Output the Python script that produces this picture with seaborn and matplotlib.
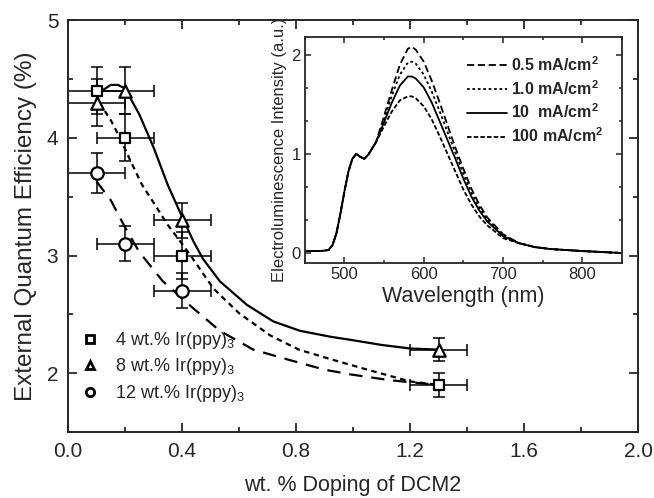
import numpy as np
import pandas as pd
import matplotlib
matplotlib.use('Agg')
import matplotlib.pyplot as plt
from matplotlib.ticker import MultipleLocator, AutoMinorLocator
from matplotlib.lines import Line2D
import seaborn as sns

# measured EQE points (wt.% DCM2 doping, EQE %)
doping_4 = [0.1, 0.2, 0.4, 1.3]
eqe_4 = [4.4, 4.0, 3.0, 1.9]
yerr_4 = [0.2, 0.2, 0.2, 0.1]

doping_8 = [0.1, 0.2, 0.4, 1.3]
eqe_8 = [4.3, 4.4, 3.3, 2.2]
yerr_8 = [0.2, 0.2, 0.15, 0.1]

doping_12 = [0.1, 0.2, 0.4]
eqe_12 = [3.7, 3.1, 2.7]
yerr_12 = [0.17, 0.15, 0.15]

xerr = 0.1

# fit curves
fit_x_8 = [0.1, 0.125, 0.15, 0.175, 0.2, 0.25, 0.3, 0.35, 0.4, 0.44, 0.474, 0.533, 0.628, 0.72, 0.814, 0.92, 1.0, 1.1, 1.2, 1.3]
fit_y_8 = [4.33, 4.41, 4.45, 4.45, 4.42, 4.2, 3.92, 3.6, 3.33, 3.12, 2.97, 2.78, 2.58, 2.44, 2.36, 2.31, 2.28, 2.24, 2.21, 2.20]
fit_x_4 = [0.11, 0.15, 0.18, 0.22, 0.26, 0.3, 0.35, 0.4, 0.43, 0.51, 0.6, 0.71, 0.81, 0.92, 1.05, 1.2, 1.3]
fit_y_4 = [4.30, 4.15, 4.01, 3.80, 3.60, 3.45, 3.26, 3.10, 3.00, 2.72, 2.51, 2.32, 2.20, 2.12, 2.03, 1.93, 1.90]
fit_x_12 = [0.1, 0.15, 0.2, 0.25, 0.333, 0.44, 0.533, 0.65, 0.78, 0.9, 0.99, 1.13, 1.3]
fit_y_12 = [3.63, 3.47, 3.24, 3.03, 2.78, 2.55, 2.36, 2.20, 2.11, 2.03, 1.99, 1.94, 1.90]

# inset EL spectra
wavelength = [450, 470, 480, 485, 490, 495, 500, 505, 510, 515, 520, 525, 530, 540,
              550, 560, 570, 580, 585, 590, 600, 610, 620, 630, 640, 650, 660, 670, 680,
              700, 720, 740, 760, 800, 850]
rise = [0.02, 0.02, 0.03, 0.08, 0.2, 0.4, 0.62, 0.82, 0.95, 1.0, 0.97, 0.95, 0.99, 1.12]
tail = [0.10, 0.06, 0.04, 0.02, 0.0]
el_05 = rise + [1.38, 1.65, 1.90, 2.06, 2.08, 2.05, 1.93, 1.74, 1.52, 1.29, 1.06, 0.85, 0.65, 0.49, 0.36, 0.19] + tail
el_1 = rise + [1.35, 1.59, 1.80, 1.92, 1.93, 1.91, 1.80, 1.63, 1.43, 1.22, 1.01, 0.80, 0.61, 0.46, 0.34, 0.18] + tail
el_10 = rise + [1.32, 1.52, 1.69, 1.78, 1.78, 1.76, 1.67, 1.52, 1.33, 1.14, 0.95, 0.75, 0.57, 0.43, 0.32, 0.17] + tail
el_100 = rise + [1.28, 1.43, 1.54, 1.58, 1.58, 1.56, 1.48, 1.35, 1.18, 1.00, 0.82, 0.64, 0.49, 0.37, 0.28, 0.15] + tail
current_labels = ['0.5 mA/cm$^\\mathbf{2}$', '1.0 mA/cm$^\\mathbf{2}$', '10  mA/cm$^\\mathbf{2}$', '100 mA/cm$^\\mathbf{2}$']

sns.set_style('ticks')
plt.rcParams['font.family'] = ['Liberation Sans', 'DejaVu Sans']
plt.rcParams['mathtext.fontset'] = 'custom'
plt.rcParams['mathtext.rm'] = 'Liberation Sans'
plt.rcParams['mathtext.bf'] = 'Liberation Sans:bold'

fig = plt.figure(figsize=(6.54, 4.98), dpi=100)
ax = fig.add_axes([0.104, 0.1325, 0.8716, 0.827])

sns.lineplot(x=fit_x_8, y=fit_y_8, ax=ax, color='black', lw=1.6, linestyle='-')
sns.lineplot(x=fit_x_4, y=fit_y_4, ax=ax, color='black', lw=1.6, linestyle=(0, (2.5, 2)))
sns.lineplot(x=fit_x_12, y=fit_y_12, ax=ax, color='black', lw=1.6, linestyle=(0, (6, 4)))

for xs, ys, ye, m, sz in [(doping_4, eqe_4, yerr_4, 's', 60), (doping_8, eqe_8, yerr_8, '^', 80),
                          (doping_12, eqe_12, yerr_12, 'o', 80)]:
    ax.errorbar(xs, ys, xerr=xerr, yerr=ye, fmt='none', ecolor='black', elinewidth=1.1, capsize=4.5, capthick=1.1)
    sns.scatterplot(x=xs, y=ys, ax=ax, marker=m, s=sz, facecolor='white', edgecolor='black', linewidth=1.6, zorder=5)

ax.set_xlim(0, 2.0)
ax.set_ylim(1.5, 5)
ax.set_xticks([0.0, 0.4, 0.8, 1.2, 1.6, 2.0])
ax.set_xticklabels(['0.0', '0.4', '0.8', '1.2', '1.6', '2.0'])
ax.xaxis.set_minor_locator(MultipleLocator(0.2))
ax.yaxis.set_major_locator(MultipleLocator(1))
ax.yaxis.set_minor_locator(MultipleLocator(0.5))
ax.tick_params(which='both', direction='in', top=True, right=True, labelsize=15, width=1.3, pad=7)
ax.tick_params(which='major', length=6.5)
ax.tick_params(which='minor', length=3.5)
for s in ax.spines.values():
    s.set_linewidth(1.4)
ax.set_xlabel('wt. % Doping of DCM2', fontsize=15.5, labelpad=10)
ax.set_ylabel('External Quantum Efficiency (%)', fontsize=17.5, labelpad=7)

handles = [Line2D([], [], marker=m, ls='none', mfc='white', mec='black', mew=2, ms=6) for m in ['s', '^', 'o']]
ax.legend(handles, ['4 wt.% Ir(ppy)$_3$', '8 wt.% Ir(ppy)$_3$', '12 wt.% Ir(ppy)$_3$'],
          loc='upper left', bbox_to_anchor=(79 / 654, 1 - 330 / 498), bbox_transform=fig.transFigure,
          frameon=False, fontsize=13, borderpad=0, borderaxespad=0,
          handletextpad=0.8, labelspacing=0.3, handlelength=1.2)

# inset
ins = fig.add_axes([0.466, 0.472, 0.485, 0.454])
styles = [(0, (4, 2)), (0, (1.5, 1.5)), '-', (0, (2.5, 1.2))]
for vals, lab, st in zip([el_05, el_1, el_10, el_100], current_labels, styles):
    sns.lineplot(x=wavelength, y=vals, ax=ins, color='black', lw=1.3, linestyle=st, label=lab)
ins.set_xlim(450, 850)
ins.set_ylim(-0.1, 2.18)
ins.xaxis.set_major_locator(MultipleLocator(100))
ins.xaxis.set_minor_locator(MultipleLocator(50))
ins.yaxis.set_major_locator(MultipleLocator(1))
ins.yaxis.set_minor_locator(AutoMinorLocator(3))
ins.tick_params(which='both', direction='in', top=True, right=True, labelsize=12, width=1.1, pad=3)
ins.tick_params(which='major', length=4.5)
ins.tick_params(which='minor', length=2.5)
for s in ins.spines.values():
    s.set_linewidth(1.3)
ins.set_xlabel('Wavelength (nm)', fontsize=15.5, labelpad=3)
ins.set_ylabel('Electroluminescence Intensity (a.u.)', fontsize=12, labelpad=3)
ins.legend(loc='upper left', bbox_to_anchor=(467 / 654, 1 - 55 / 498), bbox_transform=fig.transFigure,
           frameon=False, prop={'weight': 'bold', 'size': 11.5}, borderpad=0, borderaxespad=0,
           handlelength=2.5, handletextpad=0.25, labelspacing=0.32)

fig.savefig('out.png', dpi=100)
